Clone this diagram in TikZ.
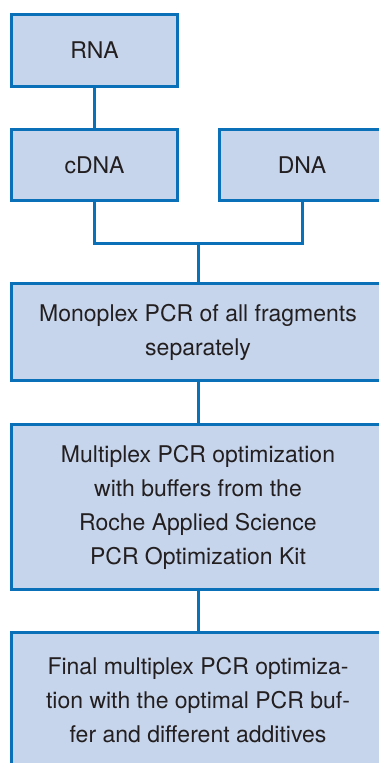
\documentclass[tikz,border=0pt]{standalone}
\usepackage{fontspec}
\setmainfont{TeX Gyre Heros}
\definecolor{boxfill}{HTML}{C6D5EB}
\definecolor{boxline}{HTML}{0A70B8}
\definecolor{txt}{HTML}{231F20}
\begin{document}
\begin{tikzpicture}[x=1pt,y=-1pt,
  stepbox/.style={draw=boxline,fill=boxfill,line width=3pt,inner sep=0pt,
    text=txt,align=center,font=\fontsize{23}{34}\selectfont},
  conn/.style={draw=boxline,line width=3pt}]
\useasboundingbox (0,0) rectangle (379,763);
\node[stepbox,minimum width=166pt,minimum height=72pt] (rna) at (94.5,50.5) {RNA};
\node[stepbox,minimum width=166pt,minimum height=71pt] (cdna) at (94.5,165) {cDNA};
\node[stepbox,minimum width=166pt,minimum height=71pt] (dna) at (302,165) {DNA};
\node[stepbox,minimum width=373pt,minimum height=97pt] (mono) at (198,332)
  {Monoplex PCR of all fragments\\separately};
\node[stepbox,minimum width=373pt,minimum height=165pt] (multi) at (198,507)
  {Multiplex PCR optimization\\with buffers from the\\Roche Applied Science\\PCR Optimization Kit};
\node[stepbox,minimum width=373pt,minimum height=135pt] (final) at (198,700)
  {Final multiplex PCR optimiza-\\tion with the optimal PCR buf-\\fer and different additives};
\coordinate (j) at (198,243);
\draw[conn] (rna.south) -- (cdna.north);
\draw[conn] (cdna.south) |- (j) -| (dna.south);
\draw[conn] (j) -- (mono.north);
\draw[conn] (mono.south) -- (multi.north);
\draw[conn] (multi.south) -- (final.north);
\end{tikzpicture}
\end{document}
